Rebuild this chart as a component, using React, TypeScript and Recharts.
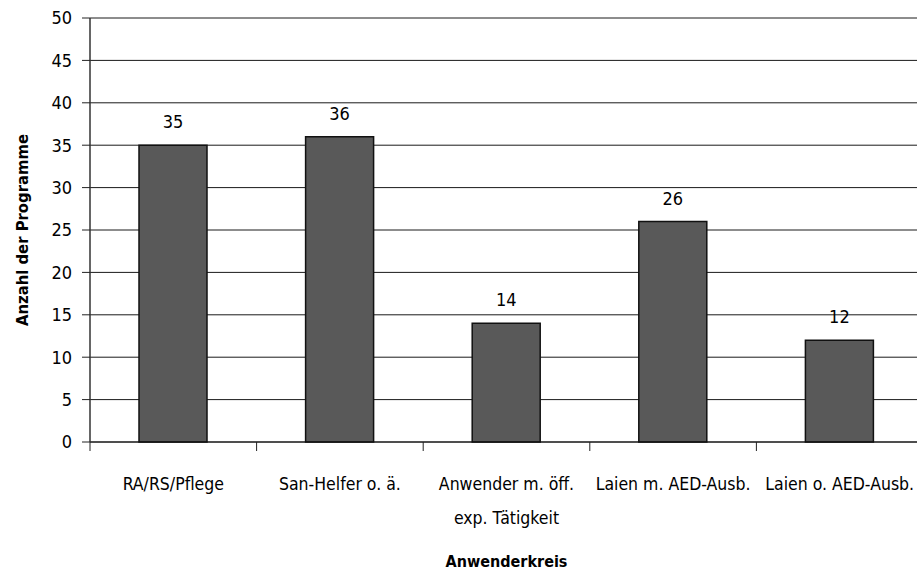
import React from 'react';
import { BarChart, Bar, XAxis, YAxis, CartesianGrid, LabelList } from 'recharts';

const categories = ['RA/RS/Pflege', 'San-Helfer o. ä.', 'Anwender m. öff.\nexp. Tätigkeit', 'Laien m. AED-Ausb.', 'Laien o. AED-Ausb.'];
const values = [35, 36, 14, 26, 12];
const yTicks = [0, 5, 10, 15, 20, 25, 30, 35, 40, 45, 50];

const data = categories.map((c, i) => ({ name: c, value: values[i] }));

const FONT = '"DejaVu Sans Condensed", "DejaVu Sans", sans-serif';

const XTick = (props: any) => {
  const { x, y, payload, index, visibleTicksCount } = props;
  const half = payload.offset || 0;
  const lines = String(payload.value).split('\n');
  const isLast = index === visibleTicksCount - 1;
  return (
    <g>
      <line x1={x - half} y1={y} x2={x - half} y2={y + 9} stroke="#222" strokeWidth={1} />
      {isLast && <line x1={x + half} y1={y} x2={x + half} y2={y + 9} stroke="#222" strokeWidth={1} />}
      {lines.map((l, i) => (
        <text key={i} x={x} y={y + 48 + i * 34} textAnchor="middle" fontFamily={FONT} fontSize={17.5} fill="#000">
          {l}
        </text>
      ))}
    </g>
  );
};

const YTitle = (props: any) => {
  const { viewBox } = props;
  const cx = viewBox.x + 28;
  const cy = viewBox.y + viewBox.height / 2;
  return (
    <text x={cx} y={cy} transform={`rotate(-90, ${cx}, ${cy})`} textAnchor="middle" fontFamily={FONT} fontWeight="bold" fontSize={16.5} fill="#000">
      Anzahl der Programme
    </text>
  );
};

const XTitle = (props: any) => {
  const { viewBox } = props;
  const cx = viewBox.x + viewBox.width / 2;
  return (
    <text x={cx} y={567} textAnchor="middle" fontFamily={FONT} fontWeight="bold" fontSize={16} fill="#000">
      Anwenderkreis
    </text>
  );
};

export default function App() {
  return (
    <div style={{ position: 'absolute', left: 0, top: 0, width: 917, height: 570, overflow: 'hidden', background: '#fff' }}>
      <BarChart width={930} height={570} data={data} margin={{ top: 18, right: 7, bottom: 0, left: 0 }}>
        <CartesianGrid horizontal vertical={false} stroke="#1a1a1a" strokeWidth={1} />
        <XAxis
          dataKey="name"
          type="category"
          interval={0}
          tickSize={0}
          tickMargin={0}
          tickLine={false}
          axisLine={{ stroke: '#111', strokeWidth: 1 }}
          tick={<XTick />}
          height={128}
          label={<XTitle />}
        />
        <YAxis
          type="number"
          domain={[0, 50]}
          ticks={yTicks}
          interval={0}
          width={90}
          tickSize={8}
          tickMargin={10}
          axisLine={{ stroke: '#333', strokeWidth: 1.5 }}
          tickLine={{ stroke: '#222' }}
          tick={{ fontFamily: FONT, fontSize: 18, fill: '#000' }}
          label={<YTitle />}
        />
        <Bar dataKey="value" fill="#595959" stroke="#111" strokeWidth={1.5} barSize={68} isAnimationActive={false}>
          <LabelList dataKey="value" position="top" offset={17} fontFamily={FONT} fontSize={18} fill="#000" />
        </Bar>
      </BarChart>
    </div>
  );
}
